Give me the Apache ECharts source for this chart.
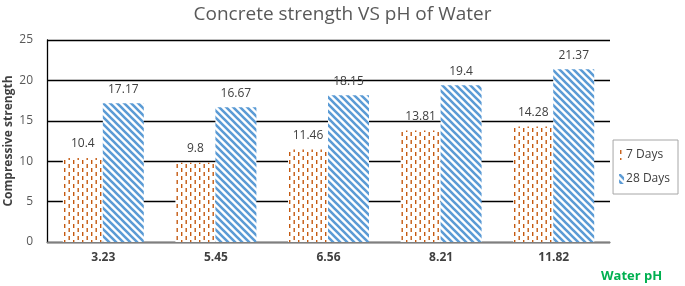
<!DOCTYPE html>
<html>
<head>
<meta charset="utf-8">
<script src="https://cdn.jsdelivr.net/npm/echarts@6/dist/echarts.min.js"></script>
<style>
  html, body { margin: 0; padding: 0; background: #fff; }
  #chart { width: 685px; height: 286px; }
</style>
</head>
<body>
<div id="chart"></div>
<script>
// data
var categories = ['3.23', '5.45', '6.56', '8.21', '11.82'];
var days7 = [10.4, 9.8, 11.46, 13.81, 14.28];
var days28 = [17.17, 16.67, 18.15, 19.4, 21.37];
var yTicks = [0, 5, 10, 15, 20, 25];

// hatch fills like the excel ones
function dashPattern() {
    var c = document.createElement('canvas');
    c.width = 9; c.height = 8;
    var ctx = c.getContext('2d');
    ctx.fillStyle = '#fff';
    ctx.fillRect(0, 0, 9, 8);
    ctx.fillStyle = '#c55a11';
    ctx.fillRect(1, 0, 1.4, 4);
    ctx.fillRect(5.5, 4, 1.4, 4);
    return c;
}
function diagPattern() {
    var s = 7;
    var c = document.createElement('canvas');
    c.width = s; c.height = s;
    var ctx = c.getContext('2d');
    ctx.fillStyle = '#fff';
    ctx.fillRect(0, 0, s, s);
    ctx.strokeStyle = '#5b9bd5';
    ctx.lineWidth = 2.6;
    ctx.beginPath();
    ctx.moveTo(-1, -1); ctx.lineTo(s + 1, s + 1);
    ctx.moveTo(-1, s - 1); ctx.lineTo(1, s + 1);
    ctx.moveTo(s - 1, -1); ctx.lineTo(s + 1, 1);
    ctx.stroke();
    return c;
}

var chart = echarts.init(document.getElementById('chart'));
var labelStyle = {
    show: true,
    position: 'top',
    distance: 8,
    color: '#404040',
    fontSize: 12,
    fontFamily: 'Open Sans'
};

var option = {
    animation: false,
    title: {
        text: 'Concrete strength VS pH of Water',
        left: 'center',
        top: 0,
        textStyle: {
            color: '#595959',
            fontSize: 19,
            fontWeight: 'normal',
            fontFamily: 'Open Sans'
        }
    },
    // y axis title, placed by hand (axis name kept getting pushed off the edge)
    graphic: [{
        type: 'text',
        x: 9,
        y: 141,
        rotation: Math.PI / 2,
        style: {
            text: 'Compressive strength',
            fill: '#404040',
            font: 'bold 12px "Open Sans"',
            align: 'center',
            verticalAlign: 'middle'
        }
    }],
    legend: {
        orient: 'vertical',
        right: 7,
        top: 140,
        itemWidth: 5,
        itemHeight: 10,
        itemGap: 12,
        padding: [9, 8, 9, 6],
        borderColor: '#a6a6a6',
        borderWidth: 1,
        icon: 'rect',
        textStyle: { color: '#404040', fontSize: 12, fontFamily: 'Open Sans', padding: [0, 0, 0, -3] },
        data: ['7 Days', '28 Days']
    },
    grid: {
        left: 47,
        right: 75,
        top: 40,
        bottom: 44,
        containLabel: false,
        outerBoundsMode: 'none'
    },
    xAxis: {
        type: 'category',
        data: categories,
        name: 'Water pH',
        nameLocation: 'end',
        nameGap: 0,
        nameTextStyle: {
            color: '#00b050',
            fontWeight: 'bold',
            fontSize: 13,
            fontFamily: 'Open Sans',
            align: 'left',
            verticalAlign: 'top',
            padding: [28, 0, 0, -9]
        },
        axisLine: { lineStyle: { color: '#7f7f7f', width: 1.3 } },
        axisTick: { show: false },
        axisLabel: {
            color: '#404040',
            fontWeight: 'bold',
            fontSize: 12,
            fontFamily: 'Open Sans',
            margin: 10
        }
    },
    yAxis: {
        type: 'value',
        min: yTicks[0],
        max: yTicks[yTicks.length - 1],
        interval: 5,
        axisLine: { show: true, lineStyle: { color: '#000', width: 1.3 } },
        axisTick: { show: false },
        axisLabel: {
            color: '#595959',
            fontSize: 12,
            fontFamily: 'Open Sans',
            margin: 14
        },
        splitLine: { lineStyle: { color: '#000', width: 1.3 } }
    },
    series: [
        {
            name: '7 Days',
            type: 'bar',
            data: days7,
            barWidth: 40,
            barGap: '0%',
            itemStyle: { color: { image: dashPattern(), repetition: 'repeat' } },
            label: labelStyle
        },
        {
            name: '28 Days',
            type: 'bar',
            data: days28,
            barWidth: 41,
            itemStyle: { color: { image: diagPattern(), repetition: 'repeat' } },
            label: labelStyle
        }
    ]
};

option && chart.setOption(option);
</script>
</body>
</html>
